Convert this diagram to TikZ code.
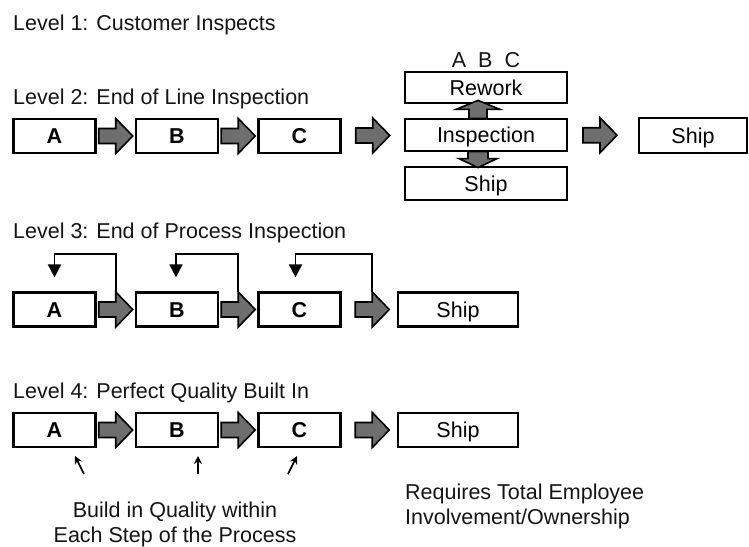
\documentclass[tikz,border=0pt]{standalone}
\usepackage{fontspec}
\setmainfont{Liberation Sans}
\usetikzlibrary{calc,arrows.meta}
\newcommand\lblfont{\fontsize{21.5}{25}\selectfont}
\definecolor{txt}{HTML}{141414}
\definecolor{arrowgray}{HTML}{6E6E6E}
\begin{document}
\begin{tikzpicture}[x=1pt,y=-1pt,
  box/.style={draw=black, line width=2.2pt, fill=white, minimum height=34pt,
    minimum width=82pt, inner sep=0pt, text height=15.4pt, text depth=0pt,
    font=\lblfont, text=black},
  title/.style={anchor=base west, inner sep=0pt, font=\lblfont, text=txt},
  note/.style={inner sep=0pt, font=\lblfont, text=txt},
  barrowfill/.style={draw=black, line width=1.6pt, fill=arrowgray, line join=miter},
  barrow/.pic={\path[barrowfill] (-17,-7.5) -- (0,-7.5) -- (0,-17.5) -- (17,0)
     -- (0,17.5) -- (0,7.5) -- (-17,7.5) -- cycle;},
  uparrow/.pic={\path[barrowfill] (-9,0) -- (-9,-9) -- (-22,-9) -- (0,-18)
     -- (22,-9) -- (9,-9) -- (9,0) -- cycle;},
  downarrow/.pic={\path[barrowfill] (-10,0) -- (-10,7) -- (-19,7) -- (0,16)
     -- (19,7) -- (10,7) -- (10,0) -- cycle;},
  fb/.style={draw=black, line width=1.8pt, -{Triangle[width=13pt,length=13pt]}},
  small/.style={draw=black, line width=1.6pt, -{Stealth[width=8pt,length=8pt]}}
]
\useasboundingbox (0,0) rectangle (749,546);

% ---------- Level 1
\node[title] (t1) at (13,30) {Level 1: Customer Inspects};

% ---------- Level 2
\node[title] (t2) at (13,104) {Level 2: End of Line Inspection};
\node[box] (A2) at (54.5,136) {\textbf{A}};
\node[box] (B2) at (177,136) {\textbf{B}};
\node[box] (C2) at (299.5,136) {\textbf{C}};
\node[box, minimum width=162pt, minimum height=32pt] (I2) at (486,135) {Inspection};
\node[box, minimum width=162pt, minimum height=31pt] (R2) at (486,87.5) {Rework};
\node[box, minimum width=162pt, minimum height=33pt] (L2) at (486,183.5) {Ship};
\node[box, minimum width=108pt, minimum height=35pt] (S2) at (693,135.5) {Ship};
\node[note, anchor=base] (abc) at (486,67) {A\ \ B\ \ C};
\pic at ($(A2.east)!0.5!(B2.west)$) {barrow};
\pic at ($(B2.east)!0.5!(C2.west)$) {barrow};
\pic at ($(C2.east)!0.5!(I2.west)$) {barrow};
\pic at ($(I2.east)!0.5!(S2.west)+(-3,0)$) {barrow};
\pic at ($(I2.north)+(-8,0.5)$) {uparrow};
\pic at ($(I2.south)+(-8,-0.5)$) {downarrow};

% ---------- Level 3
\node[title] (t3) at (13,238) {Level 3: End of Process Inspection};
\node[box] (A3) at (54.5,309.5) {\textbf{A}};
\node[box] (B3) at (177,309.5) {\textbf{B}};
\node[box] (C3) at (299.5,309.5) {\textbf{C}};
\node[box, minimum width=120pt] (S3) at (458,309.5) {Ship};
\coordinate (fA) at ($(A3.east)!0.5!(B3.west)$);
\coordinate (fB) at ($(B3.east)!0.5!(C3.west)$);
\coordinate (fC) at ($(C3.east)!0.5!(S3.west)+(3,0)$);
\pic at (fA) {barrow};
\pic at (fB) {barrow};
\pic at (fC) {barrow};
\draw[fb] ($(fA)+(0,-17.5)$) -- ++(0,-38) -| ($(A3.north)+(0,-14)$);
\draw[fb] ($(fB)+(0,-17.5)$) -- ++(0,-38) -| ($(B3.north)+(-1,-14)$);
\draw[fb] ($(fC)+(0,-17.5)$) -- ++(0,-38) -| ($(C3.north)+(-4,-14)$);

% ---------- Level 4
\node[title] (t4) at (13,398) {Level 4: Perfect Quality Built In};
\node[box] (A4) at (54.5,430) {\textbf{A}};
\node[box] (B4) at (177,430) {\textbf{B}};
\node[box] (C4) at (299.5,430) {\textbf{C}};
\node[box, minimum width=120pt] (S4) at (458,430) {Ship};
\pic at ($(A4.east)!0.5!(B4.west)$) {barrow};
\pic at ($(B4.east)!0.5!(C4.west)$) {barrow};
\pic at ($(C4.east)!0.5!(S4.west)+(3,0)$) {barrow};
\coordinate (qa) at (84,474);
\coordinate (qb) at (198,474);
\coordinate (qc) at (288,474);
\draw[small] (qa) -- ++(-9,-18);
\draw[small] (qb) -- ++(0,-18);
\draw[small] (qc) -- ++(9,-18);
\node[note, anchor=north, align=center] (build) at (175,501.5)
  {Build in Quality within\\Each Step of the Process};
\node[note, anchor=north west, align=left] (req) at (405,484)
  {Requires Total Employee\\Involvement/Ownership};
\end{tikzpicture}
\end{document}
